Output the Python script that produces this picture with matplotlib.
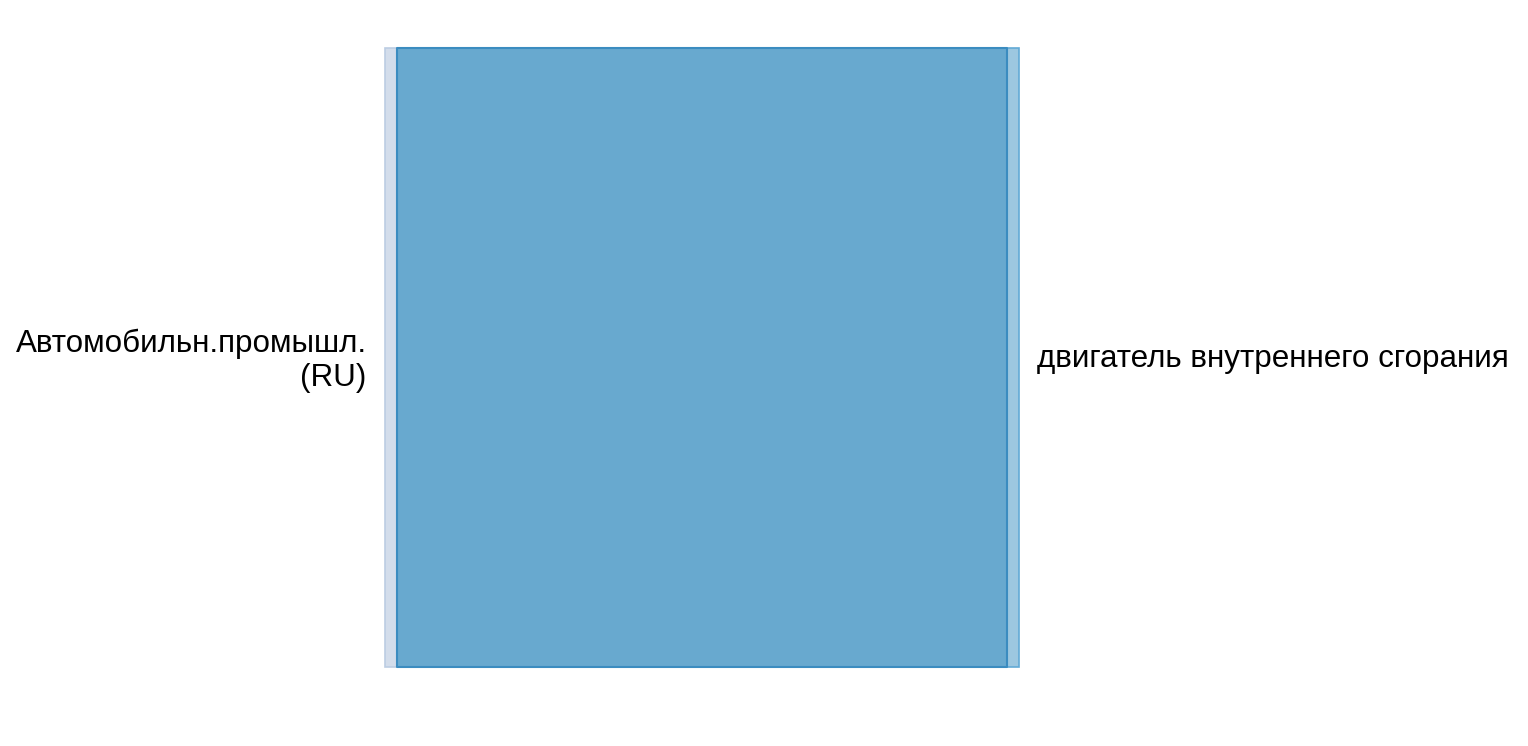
import matplotlib.pyplot as plt
from matplotlib.patches import Rectangle

plt.rcParams['font.family'] = ['Liberation Sans', 'DejaVu Sans']

sources = ['Автомобильн.промышл.\n(RU)']
targets = ['двигатель внутреннего сгорания']
values = [1.0]

src_color = '#d3ddeb'
src_edge = '#bccde3'
tgt_color = '#9cc7e0'
tgt_edge = '#62aad6'
link_color = '#68a9cf'
link_edge = '#3b8cc0'

fig = plt.figure(figsize=(15.28, 7.46), dpi=100)
# axes spans from the left edge of the source node to the right edge of the target node
ax = fig.add_axes([385 / 1528, (746 - 667) / 746, (1019 - 385) / 1528, (667 - 48) / 746])
total = sum(values)
nw = 12 / 634  # node width in axes units

ax.set_xlim(0, 1)
ax.set_ylim(0, total)
ax.axis('off')

# nodes
ax.add_patch(Rectangle((0, 0), nw, total, facecolor=src_color, edgecolor=src_edge, lw=1.2, clip_on=False))
ax.add_patch(Rectangle((1 - nw, 0), nw, total, facecolor=tgt_color, edgecolor=tgt_edge, lw=1.2, clip_on=False))

# links
y0 = 0
for v in values:
    ax.fill_between([nw, 1 - nw], [y0, y0], [y0 + v, y0 + v], facecolor=link_color,
                    edgecolor=link_edge, lw=1.5, clip_on=False)
    y0 += v

# labels
for i, s in enumerate(sources):
    ax.text(-0.029, total / 2 - 0.005, s, ha='right', va='center', fontsize=22.6, linespacing=1.17)
for i, t in enumerate(targets):
    ax.text(1 + 0.028, total / 2 - 0.003, t, ha='left', va='center', fontsize=22.6)

fig.savefig('out.png', dpi=100)
